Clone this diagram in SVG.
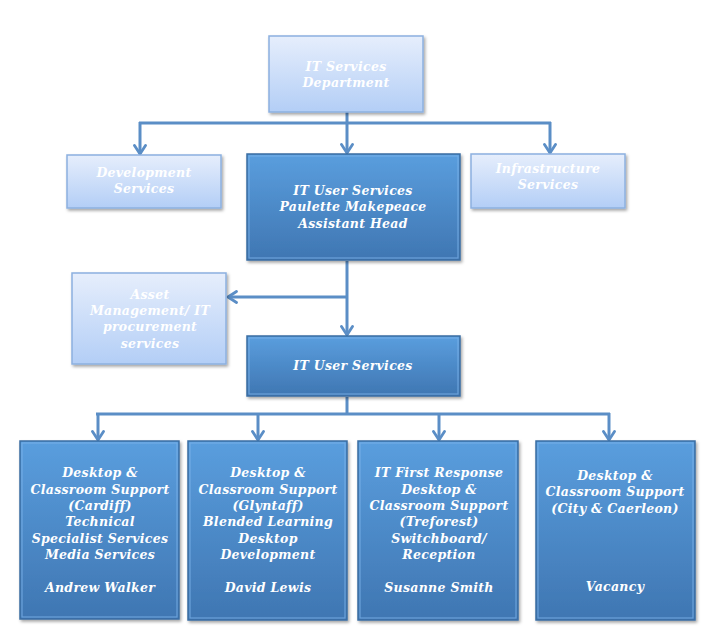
<svg xmlns="http://www.w3.org/2000/svg" width="716" height="644" viewBox="0 0 716 644">
  <defs>
    <linearGradient id="lightFill" x1="0" y1="0" x2="0" y2="1">
      <stop offset="0" stop-color="#e6eefc"/>
      <stop offset="1" stop-color="#b3cef6"/>
    </linearGradient>
    <linearGradient id="darkFill" x1="0" y1="0" x2="0" y2="1">
      <stop offset="0" stop-color="#5a9ede"/>
      <stop offset="1" stop-color="#3f76b2"/>
    </linearGradient>
    <filter id="shadow" x="-10%" y="-10%" width="125%" height="125%">
      <feDropShadow dx="1.5" dy="2" stdDeviation="1.5" flood-color="#000" flood-opacity="0.35"/>
    </filter>
    <marker id="chev" viewBox="0 0 14 14" refX="12" refY="7" markerWidth="14" markerHeight="14" markerUnits="userSpaceOnUse" orient="auto">
      <polyline points="3.5,1.5 12,7 3.5,12.5" fill="none" stroke="#5b8ec6" stroke-width="2.8" stroke-linecap="round" stroke-linejoin="round"/>
    </marker>
    <style>
      .light { fill: url(#lightFill); stroke: #8cb0df; stroke-width: 1.5; filter: url(#shadow); }
      .dark { fill: url(#darkFill); stroke: #3a6da3; stroke-width: 1.5; filter: url(#shadow); }
      .bevel { fill: none; stroke: #7db4ea; stroke-width: 1.2; opacity: 0.7; }
      .lbl { font-family: "DejaVu Serif", "Liberation Serif", serif; font-weight: bold; font-style: italic; font-size: 12.5px; fill: #ffffff; text-anchor: middle; letter-spacing: 0.3px; }
      .wire { fill: none; stroke: #5b8ec6; stroke-width: 3; }
      .arr { fill: none; stroke: #5b8ec6; stroke-width: 3; marker-end: url(#chev); }
    </style>
  </defs>

  <rect width="716" height="644" fill="#ffffff"/>

  <!-- connectors -->
  <g id="connectors">
    <line class="wire" x1="347" y1="112" x2="347" y2="123"/>
    <line class="wire" x1="139" y1="123" x2="551" y2="123"/>
    <line class="arr" x1="140" y1="122" x2="140" y2="154"/>
    <line class="arr" x1="347" y1="122" x2="347" y2="153"/>
    <line class="arr" x1="550" y1="122" x2="550" y2="153"/>

    <line class="arr" x1="347" y1="261" x2="347" y2="335"/>
    <line class="arr" x1="348" y1="297" x2="228" y2="297"/>

    <line class="wire" x1="347" y1="397" x2="347" y2="414"/>
    <line class="wire" x1="96" y1="414" x2="610" y2="414"/>
    <line class="arr" x1="98" y1="413" x2="98" y2="440"/>
    <line class="arr" x1="258" y1="413" x2="258" y2="440"/>
    <line class="arr" x1="439" y1="413" x2="439" y2="440"/>
    <line class="arr" x1="609" y1="413" x2="609" y2="440"/>
  </g>

  <!-- top level -->
  <g id="it-services-dept">
    <rect class="light" x="269" y="36" width="154" height="76"/>
    <text class="lbl" x="346" y="71">IT Services</text>
    <text class="lbl" x="346" y="87">Department</text>
  </g>

  <!-- second level -->
  <g id="development-services">
    <rect class="light" x="67" y="155" width="154" height="53"/>
    <text class="lbl" x="144" y="177">Development</text>
    <text class="lbl" x="144" y="193">Services</text>
  </g>

  <g id="it-user-services-head">
    <rect class="dark" x="247" y="154" width="213" height="106"/>
    <rect class="bevel" x="249" y="156" width="209" height="102"/>
    <text class="lbl" x="353" y="195">IT User Services</text>
    <text class="lbl" x="353" y="211">Paulette Makepeace</text>
    <text class="lbl" x="353" y="228">Assistant Head</text>
  </g>

  <g id="infrastructure-services">
    <rect class="light" x="471" y="154" width="154" height="54"/>
    <text class="lbl" x="548" y="173">Infrastructure</text>
    <text class="lbl" x="548" y="189">Services</text>
  </g>

  <!-- third level -->
  <g id="asset-management">
    <rect class="light" x="72" y="273" width="154" height="91"/>
    <text class="lbl" x="150" y="299">Asset</text>
    <text class="lbl" x="150" y="315">Management/ IT</text>
    <text class="lbl" x="150" y="331">procurement</text>
    <text class="lbl" x="150" y="348">services</text>
  </g>

  <g id="it-user-services">
    <rect class="dark" x="247" y="336" width="213" height="60"/>
    <rect class="bevel" x="249" y="338" width="209" height="56"/>
    <text class="lbl" x="353" y="370">IT User Services</text>
  </g>

  <!-- bottom level -->
  <g id="support-cardiff">
    <rect class="dark" x="20" y="441" width="159" height="178"/>
    <rect class="bevel" x="22" y="443" width="155" height="174"/>
    <text class="lbl" x="100" y="477">Desktop &amp;</text>
    <text class="lbl" x="100" y="494">Classroom Support</text>
    <text class="lbl" x="100" y="510">(Cardiff)</text>
    <text class="lbl" x="100" y="526">Technical</text>
    <text class="lbl" x="100" y="543">Specialist Services</text>
    <text class="lbl" x="100" y="559">Media Services</text>
    <text class="lbl" x="100" y="592">Andrew Walker</text>
  </g>

  <g id="support-glyntaff">
    <rect class="dark" x="188" y="441" width="159" height="179"/>
    <rect class="bevel" x="190" y="443" width="155" height="175"/>
    <text class="lbl" x="268" y="477">Desktop &amp;</text>
    <text class="lbl" x="268" y="494">Classroom Support</text>
    <text class="lbl" x="268" y="510">(Glyntaff)</text>
    <text class="lbl" x="268" y="526">Blended Learning</text>
    <text class="lbl" x="268" y="543">Desktop</text>
    <text class="lbl" x="268" y="559">Development</text>
    <text class="lbl" x="268" y="592">David Lewis</text>
  </g>

  <g id="first-response-treforest">
    <rect class="dark" x="358" y="441" width="160" height="179"/>
    <rect class="bevel" x="360" y="443" width="156" height="175"/>
    <text class="lbl" x="439" y="477">IT First Response</text>
    <text class="lbl" x="439" y="494">Desktop &amp;</text>
    <text class="lbl" x="439" y="510">Classroom Support</text>
    <text class="lbl" x="439" y="526">(Treforest)</text>
    <text class="lbl" x="439" y="543">Switchboard/</text>
    <text class="lbl" x="439" y="559">Reception</text>
    <text class="lbl" x="439" y="592">Susanne Smith</text>
  </g>

  <g id="support-city-caerleon">
    <rect class="dark" x="536" y="441" width="159" height="179"/>
    <rect class="bevel" x="538" y="443" width="155" height="175"/>
    <text class="lbl" x="615" y="480">Desktop &amp;</text>
    <text class="lbl" x="615" y="496">Classroom Support</text>
    <text class="lbl" x="615" y="513">(City &amp; Caerleon)</text>
    <text class="lbl" x="615" y="591">Vacancy</text>
  </g>
</svg>
